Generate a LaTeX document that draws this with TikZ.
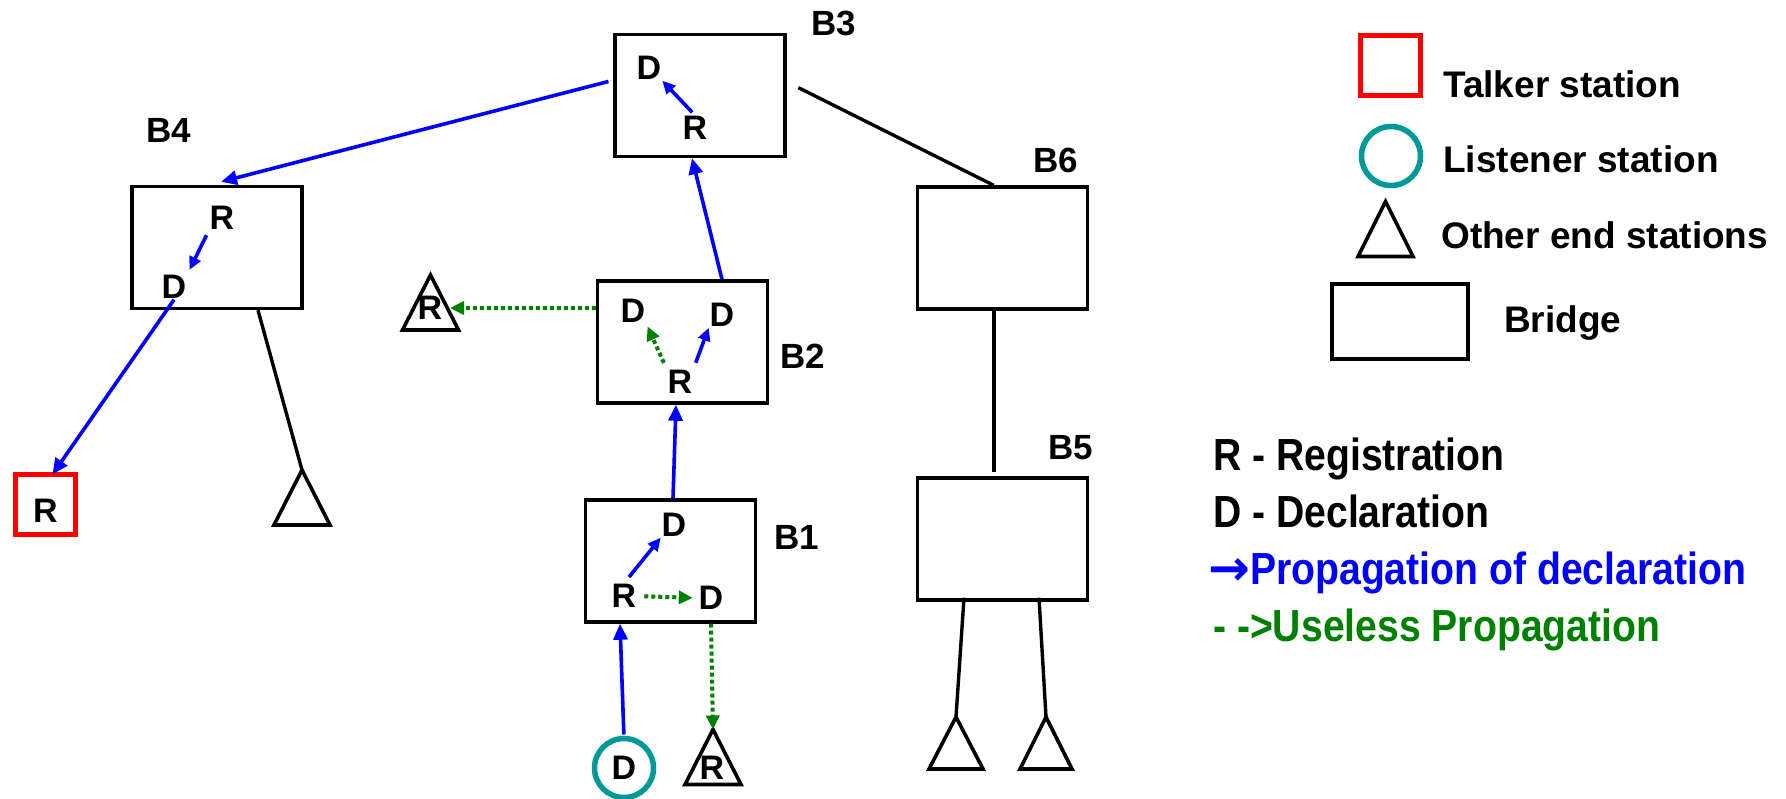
\documentclass[tikz,border=0pt]{standalone}
\usepackage{fontspec}
\setmainfont{Liberation Sans}
\newfontfamily\condfont{Liberation Sans}[FakeStretch=0.87]
\newfontfamily\arrowfont{DejaVu Sans}
\usetikzlibrary{arrows.meta}
\definecolor{propblue}{RGB}{0,0,255}
\definecolor{usegreen}{RGB}{0,128,0}
\definecolor{talkred}{RGB}{255,0,0}
\definecolor{listteal}{RGB}{0,153,153}
\begin{document}
\begin{tikzpicture}[x=1bp,y=-1bp,
  bridge/.style={draw=black, line width=3.4bp, minimum width=170bp, minimum height=122bp, inner sep=0pt},
  lett/.style={font=\fontsize{34bp}{34bp}\selectfont\bfseries, inner sep=1bp, outer sep=0pt},
  blab/.style={font=\fontsize{35bp}{35bp}\selectfont\bfseries, inner sep=0pt},
  endst/.style={minimum width=56bp, minimum height=55bp, inner sep=0pt, outer sep=0pt},
  tri/.style={draw=black, line width=3.6bp, line join=miter},
  wire/.style={draw=black, line width=3.4bp},
  prop/.style={draw=propblue, line width=3.6bp, -{Triangle[length=16bp,width=14bp]}},
  propin/.style={draw=propblue, line width=3.6bp, -{Triangle[length=13bp,width=12bp]}},
  useless/.style={draw=usegreen, line width=4bp, dash pattern=on 4bp off 3bp, -{Triangle[length=14bp,width=13bp]}},
  talker/.style={draw=talkred, line width=5bp, minimum size=60bp, inner sep=0pt},
  listener/.style={draw=listteal, line width=5.5bp, circle, minimum size=59bp, inner sep=0pt},
  legtxt/.style={font=\fontsize{37bp}{37bp}\selectfont\bfseries, anchor=base west, inner sep=0pt},
  keytxt/.style={font=\condfont\fontsize{45bp}{45bp}\selectfont\bfseries, anchor=base west, inner sep=0pt}
]
\useasboundingbox (0,0) rectangle (1786,799);

% bridges
\node[bridge] (B3) at (700,95.5) {};
\node[bridge] (B4) at (217,247.5) {};
\node[bridge] (B2) at (682.5,342) {};
\node[bridge] (B1) at (670.5,561) {};
\node[bridge] (B6) at (1002.5,248) {};
\node[bridge] (B5) at (1002.5,539) {};

% bridge labels
\node[blab] (lB3) at (834,23) {B3};
\node[blab] (lB4) at (169,130) {B4};
\node[blab] (lB2) at (803,356) {B2};
\node[blab] (lB1) at (797,537) {B1};
\node[blab] (lB6) at (1056,160) {B6};
\node[blab] (lB5) at (1071,448) {B5};

% letters inside bridges
\node[lett] (D3) at (649,68) {D};
\node[lett] (R3) at (695,128) {R};
\node[lett] (R4) at (222,218) {R};
\node[lett] (D4) at (174,287) {D};
\node[lett] (D2a) at (633,311) {D};
\node[lett] (D2b) at (722,315) {D};
\node[lett] (R2) at (680,382) {R};
\node[lett] (D1a) at (674,525) {D};
\node[lett] (R1) at (624,596) {R};
\node[lett] (D1b) at (711,598) {D};

% end stations
\node[talker, lett, text height=35bp, text depth=0pt] (T) at (45.5,504.5) {R};
\node[listener, lett] (L) at (624,768) {D};
\node[endst] (tL) at (430.5,302.5) {};
\node[endst] (t4) at (302,497.5) {};
\node[endst] (tB) at (713,757) {};
\node[endst, minimum width=54bp, minimum height=52bp] (t5a) at (956,743) {};
\node[endst, minimum width=52bp, minimum height=52bp] (t5b) at (1046,743) {};
\node[lett] (rL) at (430,308) {R};
\node[lett] (rB) at (712,768) {R};

% legend shapes
\node[talker] (kT) at (1390.5,65.5) {};
\node[listener] (kL) at (1391,156) {};
\node[endst, minimum width=55bp, minimum height=55bp] (kO) at (1385.5,229) {};
\node[bridge, minimum width=136bp, minimum height=75bp] (kB) at (1400,321.5) {};

\foreach \t in {tL,t4,tB,t5a,t5b,kO}
  \draw[tri] (\t.north) -- (\t.south east) -- (\t.south west) -- cycle;

% connectors
\draw[prop, shorten <=5bp] (B3.170) -- ([xshift=4bp,yshift=3bp]B4.north);
\draw[prop] (D4.south) -- (T.77);
\draw[wire] ([xshift=41bp]B4.south) -- (t4.north);
\draw[wire, shorten <=13bp] (B3.9) -- (B6.98);
\draw[wire] ([xshift=-8.5bp]B6.south) -- ([xshift=-8.5bp,yshift=4bp]B5.north);
\draw[wire] ([xshift=-38.5bp,yshift=4bp]B5.south) -- (t5a.north);
\draw[wire] ([xshift=36.5bp,yshift=4bp]B5.south) -- (t5b.north);
\draw[prop] ([xshift=39.5bp]B2.north) -- ([xshift=-8bp]B3.south);
\draw[prop] ([xshift=2.5bp]B1.north) -- ([xshift=-6.5bp]B2.south);
\draw[prop, shorten <=4bp] (L.north) -- ([xshift=-50.5bp]B1.south);
\draw[useless] ([xshift=40.5bp]B1.south) -- (tB.north);
\draw[useless] ([yshift=34bp]B2.west) -- ([xshift=-8.5bp,yshift=-5.5bp]tL.east);

% connectors inside bridges
\draw[propin, shorten <=4bp] (R3.north) -- (D3.south east);
\draw[propin, shorten <=5bp, shorten >=5bp] (R4.south west) -- (D4.north east);
\draw[propin, shorten <=7bp] (R2.north east) -- (D2b.south west);
\draw[useless, shorten <=7bp, shorten >=3bp] (R2.north west) -- (D2a.south east);
\draw[propin, shorten <=8bp] (R1.north) -- (D1a.south west);
\draw[useless, shorten <=7bp, shorten >=5bp] (R1.east) -- (D1b.west);

% legend texts
\node[legtxt] (xT) at (1443,97) {Talker station};
\node[legtxt] (xL) at (1443,172) {Listener station};
\node[legtxt] (xO) at (1441,248) {Other end stations};
\node[legtxt] (xB) at (1504,332) {Bridge};
\node[keytxt] (kR) at (1213,470) {R - Registration};
\node[keytxt] (kD) at (1213,527) {D - Declaration};
\node[keytxt, text=propblue] (kP) at (1208,584) {{\arrowfont\fontsize{50bp}{50bp}\selectfont\raisebox{-1bp}{→}}Propagation of declaration};
\node[keytxt, text=usegreen] (kU) at (1213,641) {- ->Useless Propagation};
\end{tikzpicture}
\end{document}
